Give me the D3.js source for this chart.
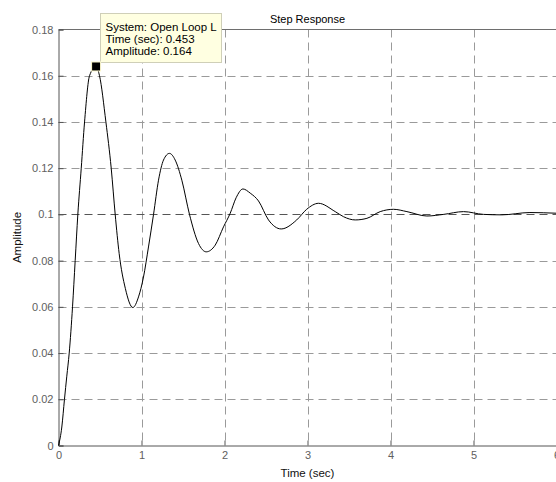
<!DOCTYPE html>
<html>
<head>
<meta charset="utf-8">
<script src="https://cdn.jsdelivr.net/npm/d3@7"></script>
<style>
  html, body { margin: 0; padding: 0; background: #fff; }
  svg { display: block; font-family: "Liberation Sans", Arial, Helvetica, sans-serif; }
</style>
</head>
<body>
<svg id="chart" width="556" height="482"></svg>
<script>
// Step response samples (time in seconds, amplitude)
const time = [0, 0.04, 0.072, 0.1, 0.129, 0.169, 0.201, 0.233, 0.274, 0.314, 0.374, 0.453,
  0.494, 0.571, 0.635, 0.683, 0.731, 0.805, 0.896, 0.964, 1.024, 1.084, 1.145, 1.205,
  1.265, 1.337, 1.406, 1.486, 1.578, 1.687, 1.78, 1.888, 1.988, 2.069, 2.14, 2.222,
  2.31, 2.41, 2.53, 2.683, 2.87, 2.99, 3.133, 3.334, 3.434, 3.575, 3.716, 3.876,
  4.036, 4.198, 4.438, 4.64, 4.88, 5.12, 5.34, 5.68, 6.0];
const amplitude = [0, 0.008, 0.02, 0.03, 0.04, 0.06, 0.08, 0.1, 0.12, 0.14, 0.16, 0.164,
  0.16, 0.14, 0.12, 0.1, 0.083, 0.068, 0.0597, 0.0643, 0.0729, 0.0859, 0.1, 0.1148,
  0.1235, 0.1264, 0.1235, 0.1148, 0.1, 0.0874, 0.0838, 0.0867, 0.0946, 0.1005, 0.1072, 0.111,
  0.1092, 0.1058, 0.0976, 0.0937, 0.0976, 0.1022, 0.1048, 0.1012, 0.099, 0.0976, 0.0983, 0.1012,
  0.1022, 0.1012, 0.0993, 0.1, 0.1012, 0.1, 0.0998, 0.1008, 0.1005];

const xTicks = [0, 1, 2, 3, 4, 5, 6];
const yTicks = [0, 0.02, 0.04, 0.06, 0.08, 0.1, 0.12, 0.14, 0.16, 0.18];
const finalValue = 0.1;

// Data tip on the peak
const tipSystem = "Open Loop L";
const tipTime = 0.453;
const tipAmplitude = 0.164;

const svg = d3.select("#chart");
const plotLeft = 58.5, plotRight = 556.5, plotTop = 29.5, plotBottom = 445.5;

const x = d3.scaleLinear().domain([0, 6]).range([plotLeft, plotRight]);
const y = d3.scaleLinear().domain([0, 0.18]).range([plotBottom, plotTop]);

// Grid
const grid = svg.append("g").attr("stroke", "#9a9a9a").attr("stroke-width", 1)
  .attr("stroke-dasharray", "8,5").attr("fill", "none");
grid.selectAll("line.v").data(xTicks.slice(1)).join("line")
  .attr("class", "v")
  .attr("x1", d => Math.round(x(d)) + 0.5).attr("x2", d => Math.round(x(d)) + 0.5)
  .attr("y1", plotTop).attr("y2", plotBottom);
grid.selectAll("line.h").data(yTicks.slice(1, -1)).join("line")
  .attr("class", "h")
  .attr("x1", plotLeft).attr("x2", plotRight)
  .attr("y1", d => Math.round(y(d)) + 0.5).attr("y2", d => Math.round(y(d)) + 0.5)
  .attr("stroke", d => d === finalValue ? "#555" : null);

// Box top edge
svg.append("line").attr("x1", plotLeft).attr("x2", plotRight).attr("y1", plotTop).attr("y2", plotTop)
  .attr("stroke", "#6e6e6e");

// Axes
const fmt = d3.format("~g");
const yAxis = svg.append("g").attr("transform", `translate(${plotLeft},0)`)
  .call(d3.axisLeft(y).tickValues(yTicks).tickFormat(fmt).tickSize(-5).tickPadding(5));
const xAxis = svg.append("g").attr("transform", `translate(0,${plotBottom})`)
  .call(d3.axisBottom(x).tickValues(xTicks).tickFormat(fmt).tickSize(-5).tickPadding(6));
[xAxis, yAxis].forEach(a => {
  a.select(".domain").attr("stroke", "#555");
  a.selectAll(".tick line").attr("stroke", "#555");
  a.selectAll(".tick text").attr("fill", "#606060").attr("font-size", 11)
    .attr("font-family", "'Liberation Sans', Arial, sans-serif");
});

// Response curve
const pts = time.map((t, i) => [t, amplitude[i]]);
svg.append("path").datum(pts)
  .attr("fill", "none").attr("stroke", "#000").attr("stroke-width", 1)
  .attr("d", d3.line().x(d => x(d[0])).y(d => y(d[1])).curve(d3.curveMonotoneX));

// Titles
svg.append("text").attr("x", (plotLeft + plotRight) / 2).attr("y", 23)
  .attr("text-anchor", "middle").attr("font-size", 11).attr("fill", "#000")
  .text("Step Response");
svg.append("text").attr("x", (plotLeft + plotRight) / 2).attr("y", 477)
  .attr("text-anchor", "middle").attr("font-size", 11.5).attr("fill", "#111")
  .text("Time (sec)");
svg.append("text").attr("transform", `translate(21,${(plotTop + plotBottom) / 2}) rotate(-90)`)
  .attr("text-anchor", "middle").attr("font-size", 11.5).attr("fill", "#111")
  .text("Amplitude");

// Data tip
const px = x(tipTime), py = y(tipAmplitude);
const tip = svg.append("g");
tip.append("rect").attr("x", 100.5).attr("y", 13.5).attr("width", 121).attr("height", 49)
  .attr("fill", "#ffffe1").attr("stroke", "#cfcfb8");
const tipLines = [`System: ${tipSystem}`, `Time (sec): ${tipTime}`, `Amplitude: ${tipAmplitude}`];
tip.selectAll("text").data(tipLines).join("text")
  .attr("x", 105.5).attr("y", (d, i) => 30.5 + i * 12)
  .attr("font-size", 11.5).attr("fill", "#000").text(d => d);
svg.append("rect").attr("x", px - 4.5).attr("y", py - 4.5).attr("width", 9).attr("height", 9)
  .attr("fill", "#000").attr("stroke", "#fffbd0").attr("stroke-width", 1);
</script>
</body>
</html>
